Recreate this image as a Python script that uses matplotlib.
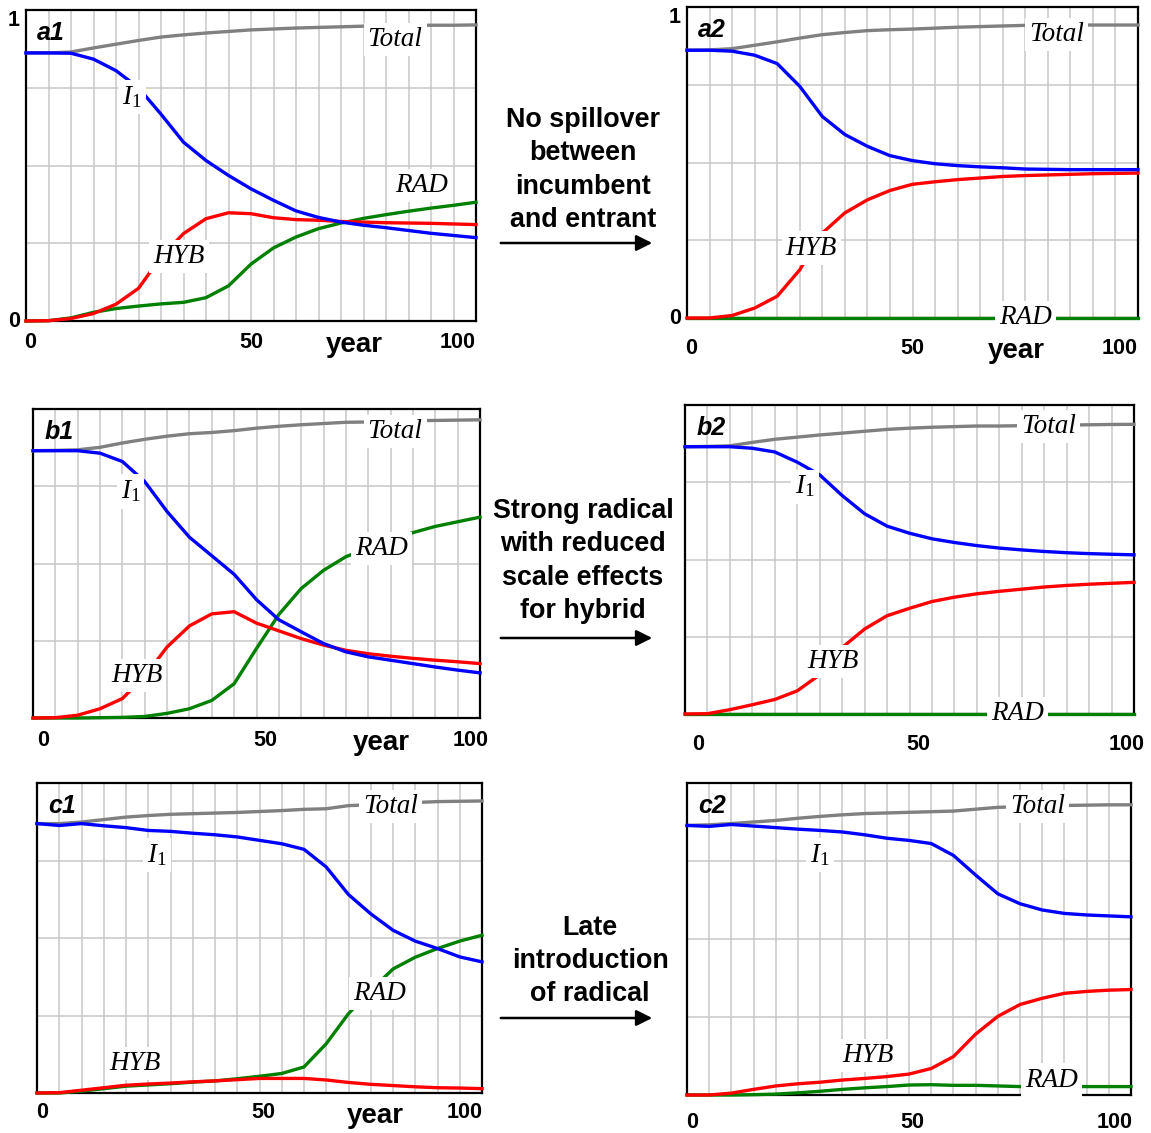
import matplotlib
matplotlib.use('Agg')
import matplotlib.pyplot as plt
from matplotlib.patches import FancyArrowPatch

plt.rcParams['mathtext.fontset'] = 'custom'
plt.rcParams['mathtext.it'] = 'Liberation Serif:italic'
plt.rcParams['mathtext.rm'] = 'Liberation Serif'

W, H = 1151, 1133
SANS = 'Liberation Sans'
SERIF = 'Liberation Serif'

# simulation output read every 5 years
years = [0, 5, 10, 15, 20, 25, 30, 35, 40, 45, 50, 55, 60, 65, 70, 75, 80, 85, 90, 95, 100]

a1_total = [0.862, 0.862, 0.865, 0.878, 0.890, 0.902, 0.913, 0.920, 0.926, 0.931, 0.936,
            0.939, 0.942, 0.944, 0.946, 0.948, 0.949, 0.950, 0.951, 0.951, 0.952]
a1_i1 = [0.862, 0.862, 0.861, 0.842, 0.805, 0.750, 0.665, 0.575, 0.516, 0.468, 0.425,
         0.388, 0.354, 0.333, 0.318, 0.308, 0.300, 0.291, 0.282, 0.275, 0.268]
a1_hyb = [0.0, 0.001, 0.008, 0.024, 0.054, 0.105, 0.206, 0.281, 0.329, 0.348, 0.345,
          0.332, 0.326, 0.324, 0.320, 0.318, 0.316, 0.315, 0.314, 0.312, 0.310]
a1_rad = [0.0, 0.001, 0.010, 0.028, 0.040, 0.048, 0.055, 0.060, 0.075, 0.113, 0.183,
          0.235, 0.270, 0.297, 0.315, 0.330, 0.342, 0.353, 0.363, 0.372, 0.382]

a2_total = [0.861, 0.862, 0.866, 0.877, 0.888, 0.900, 0.911, 0.918, 0.924, 0.927, 0.929,
            0.932, 0.935, 0.937, 0.939, 0.941, 0.941, 0.942, 0.942, 0.942, 0.942]
a2_i1 = [0.861, 0.861, 0.858, 0.845, 0.818, 0.745, 0.648, 0.590, 0.552, 0.522, 0.506,
         0.496, 0.490, 0.486, 0.483, 0.479, 0.478, 0.477, 0.477, 0.477, 0.477]
a2_hyb = [0.0, 0.0, 0.008, 0.032, 0.070, 0.155, 0.273, 0.338, 0.380, 0.410, 0.430,
          0.438, 0.445, 0.450, 0.455, 0.458, 0.460, 0.462, 0.464, 0.465, 0.466]
a2_rad = [0.0, 0.0, 0.0, 0.0, 0.0, 0.0, 0.0, 0.0, 0.0, 0.0, 0.0,
          0.0, 0.0, 0.0, 0.0, 0.0, 0.0, 0.0, 0.0, 0.0, 0.0]

b1_total = [0.865, 0.866, 0.868, 0.876, 0.890, 0.902, 0.912, 0.920, 0.924, 0.930, 0.938,
            0.944, 0.949, 0.953, 0.957, 0.958, 0.960, 0.962, 0.963, 0.964, 0.965]
b1_i1 = [0.865, 0.865, 0.865, 0.857, 0.830, 0.765, 0.668, 0.585, 0.525, 0.465, 0.383,
         0.318, 0.279, 0.241, 0.214, 0.198, 0.187, 0.176, 0.165, 0.155, 0.146]
b1_hyb = [0.0, 0.001, 0.009, 0.030, 0.063, 0.135, 0.230, 0.298, 0.337, 0.344, 0.307,
          0.282, 0.257, 0.236, 0.219, 0.208, 0.200, 0.193, 0.187, 0.182, 0.176]
b1_rad = [0.0, 0.0, 0.0, 0.001, 0.002, 0.005, 0.015, 0.030, 0.057, 0.111, 0.225,
          0.335, 0.419, 0.478, 0.522, 0.550, 0.575, 0.600, 0.620, 0.635, 0.650]

b2_total = [0.865, 0.866, 0.868, 0.879, 0.889, 0.896, 0.903, 0.909, 0.915, 0.921, 0.925,
            0.928, 0.930, 0.932, 0.932, 0.933, 0.934, 0.935, 0.936, 0.937, 0.9375]
b2_i1 = [0.865, 0.865, 0.865, 0.860, 0.848, 0.815, 0.774, 0.707, 0.648, 0.608, 0.585,
         0.567, 0.555, 0.545, 0.537, 0.531, 0.526, 0.522, 0.519, 0.517, 0.515]
b2_hyb = [0.0, 0.001, 0.014, 0.030, 0.047, 0.075, 0.127, 0.215, 0.275, 0.318, 0.342,
          0.364, 0.378, 0.389, 0.397, 0.404, 0.411, 0.416, 0.420, 0.423, 0.426]
b2_rad = [0.0, 0.0, 0.0, 0.0, 0.0, 0.0, 0.0, 0.0, 0.0, 0.0, 0.0,
          0.0, 0.0, 0.0, 0.0, 0.0, 0.0, 0.0, 0.0, 0.0, 0.0]

c1_total = [0.869, 0.869, 0.874, 0.882, 0.890, 0.895, 0.899, 0.901, 0.903, 0.905, 0.908,
            0.911, 0.915, 0.917, 0.927, 0.930, 0.933, 0.937, 0.940, 0.941, 0.942]
c1_i1 = [0.869, 0.863, 0.869, 0.862, 0.856, 0.847, 0.844, 0.838, 0.833, 0.826, 0.815,
         0.804, 0.786, 0.729, 0.640, 0.578, 0.525, 0.490, 0.466, 0.439, 0.423]
c1_hyb = [0.0, 0.001, 0.009, 0.017, 0.025, 0.029, 0.032, 0.036, 0.039, 0.043, 0.047,
          0.047, 0.047, 0.042, 0.034, 0.028, 0.024, 0.020, 0.017, 0.016, 0.014]
c1_rad = [0.0, 0.0, 0.006, 0.014, 0.022, 0.026, 0.030, 0.035, 0.039, 0.046, 0.054,
          0.063, 0.084, 0.159, 0.256, 0.331, 0.400, 0.438, 0.466, 0.490, 0.509]

c2_total = [0.864, 0.866, 0.870, 0.875, 0.880, 0.887, 0.893, 0.898, 0.902, 0.904, 0.906,
            0.908, 0.910, 0.916, 0.922, 0.924, 0.926, 0.928, 0.929, 0.930, 0.930]
c2_i1 = [0.864, 0.861, 0.867, 0.862, 0.857, 0.852, 0.848, 0.843, 0.834, 0.823, 0.816,
         0.806, 0.768, 0.705, 0.645, 0.613, 0.593, 0.582, 0.577, 0.574, 0.571]
c2_hyb = [0.0, 0.0, 0.006, 0.018, 0.029, 0.036, 0.041, 0.048, 0.053, 0.059, 0.067,
          0.085, 0.123, 0.195, 0.252, 0.290, 0.310, 0.326, 0.332, 0.336, 0.338]
c2_rad = [0.0, 0.0, 0.0, 0.001, 0.003, 0.007, 0.012, 0.018, 0.023, 0.027, 0.032,
          0.033, 0.031, 0.031, 0.029, 0.027, 0.027, 0.027, 0.027, 0.027, 0.027]

scenario_texts = ['No spillover\nbetween\nincumbent\nand entrant',
                  'Strong radical\nwith reduced\nscale effects\nfor hybrid',
                  'Late\nintroduction\nof radical']

fig = plt.figure(figsize=(W / 100, H / 100), dpi=100)


def px_axes(l, r, t, b):
    return fig.add_axes([l / W, 1 - b / H, (r - l) / W, (b - t) / H])


def panel(box, name, total, i1, hyb, rad, labels, tick_x, tick_dy, year_x=None, ylabels=False):
    ax = px_axes(*box)
    ax.set_xlim(0, 100)
    ax.set_ylim(0, 1)
    ax.set_xticks(range(0, 101, 5))
    ax.set_yticks([0, 0.25, 0.5, 0.75, 1])
    ax.tick_params(length=0, labelbottom=False, labelleft=False)
    ax.grid(True, color='#c8c8c8', lw=1.1)
    ax.set_axisbelow(True)
    for s in ax.spines.values():
        s.set_linewidth(1.6)
    ax.plot(years, total, color='#808080', lw=2.4, zorder=3, clip_on=False)
    ax.plot(years, rad, color='#008000', lw=2.4, zorder=3, clip_on=False)
    ax.plot(years, hyb, color='#ff0000', lw=2.4, zorder=3, clip_on=False)
    ax.plot(years, i1, color='#0000ff', lw=2.4, zorder=3, clip_on=False)

    ax.text(0.025, 0.925, name, transform=ax.transAxes, fontsize=18, weight='bold',
            style='italic', family=SANS, ha='left', va='center', zorder=6)
    for txt, (x, y) in labels.items():
        ax.text(x, y, txt, ha='center', va='center', fontsize=19.5, family=SERIF,
                style='italic', zorder=5,
                bbox=dict(boxstyle='square,pad=0.15', fc='white', ec='none'))

    trans = ax.get_xaxis_transform()
    for x, lab in zip(tick_x, ['0', '50', '100']):
        ax.annotate(lab, (x, 0), xycoords=trans, xytext=(0, -tick_dy * 0.72),
                    textcoords='offset points', ha='center', va='center',
                    fontsize=15.5, weight='bold', family=SANS, annotation_clip=False)
    if year_x is not None:
        ax.annotate('year', (year_x, 0), xycoords=trans, xytext=(0, -(tick_dy + 3) * 0.72),
                    textcoords='offset points', ha='center', va='center',
                    fontsize=20, weight='bold', family=SANS, annotation_clip=False)
    if ylabels:
        ax.text(-0.014, 0, '0', transform=ax.transAxes, ha='right', va='center',
                fontsize=15.5, weight='bold', family=SANS)
        ax.text(-0.014, 1.0, '1', transform=ax.transAxes, ha='right', va='top',
                fontsize=15.5, weight='bold', family=SANS)
    return ax


panel((26, 476, 10, 321), 'a1', a1_total, a1_i1, a1_hyb, a1_rad,
      {'Total': (82, 0.906), '$I_1$': (23.5, 0.72), 'HYB': (34, 0.206), 'RAD': (88, 0.436)},
      [0.9, 50, 96], 21, year_x=73, ylabels=True)
panel((687, 1138, 7, 318), 'a2', a2_total, a2_i1, a2_hyb, a2_rad,
      {'Total': (82, 0.911), 'HYB': (27.6, 0.225), 'RAD': (75, 0.0)},
      [1, 50, 96], 30, year_x=73, ylabels=True)
panel((33, 480, 409, 718), 'b1', b1_total, b1_i1, b1_hyb, b1_rad,
      {'Total': (81, 0.928), '$I_1$': (21.8, 0.733), 'HYB': (23.2, 0.138), 'RAD': (78, 0.549)},
      [2.2, 52, 98], 22, year_x=78)
panel((685, 1134, 405, 714), 'b2', b2_total, b2_i1, b2_hyb, b2_rad,
      {'Total': (81, 0.93), '$I_1$': (26.7, 0.736), 'HYB': (33, 0.17), 'RAD': (74, 0.0)},
      [2.9, 52, 98.4], 31)
panel((37, 482, 783, 1093), 'c1', c1_total, c1_i1, c1_hyb, c1_rad,
      {'Total': (79.4, 0.923), '$I_1$': (26.9, 0.767), 'HYB': (22, 0.095), 'RAD': (77, 0.32)},
      [1.1, 50.8, 96.2], 20, year_x=76)
panel((687, 1131, 783, 1095), 'c2', c2_total, c2_i1, c2_hyb, c2_rad,
      {'Total': (79, 0.925), '$I_1$': (30, 0.768), 'HYB': (40.8, 0.128), 'RAD': (82, 0.048)},
      [1.1, 50.7, 96.4], 27)

for txt, (cx, cy), ay in zip(scenario_texts, [(583, 170), (583, 561), (590, 961)], [243, 638, 1018]):
    fig.text(cx / W, 1 - cy / H, txt, ha='center', va='center', fontsize=19.4,
             weight='bold', family=SANS, linespacing=1.36)
    arr = FancyArrowPatch((498 / W, 1 - ay / H), (655 / W, 1 - ay / H),
                          transform=fig.transFigure, arrowstyle='-|>',
                          mutation_scale=24, lw=1.8, color='black')
    fig.add_artist(arr)

fig.savefig('out.png', dpi=100)
